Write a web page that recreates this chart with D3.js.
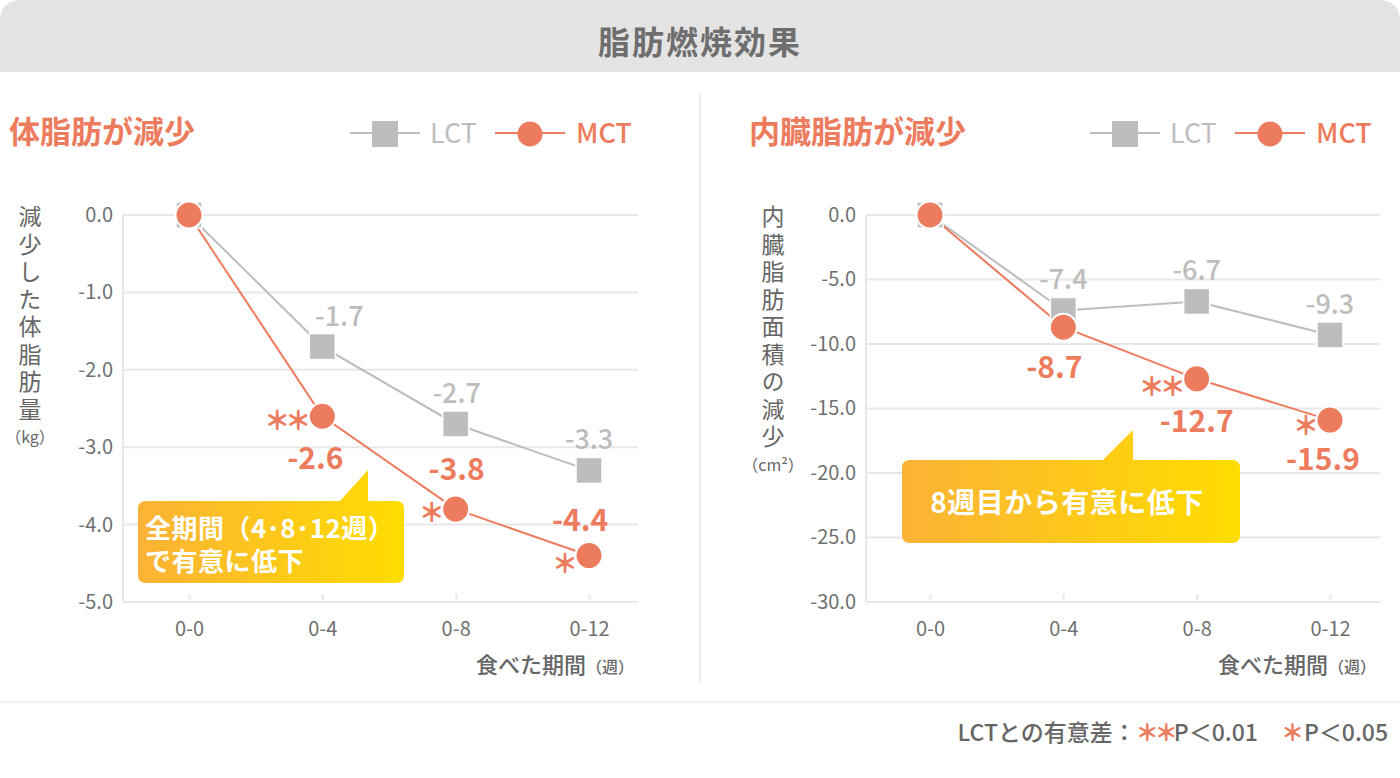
<!DOCTYPE html>
<html><head><meta charset="utf-8">
<script src="https://cdn.jsdelivr.net/npm/d3@7"></script>
<style>
html,body{margin:0;padding:0;background:#fff;}
svg{display:block;font-family:"Noto Sans CJK JP","Noto Sans",sans-serif;}
</style></head>
<body>
<svg id="c" width="1400" height="778"></svg>
<script>
// ---------- data ----------
const categories = ["0-0", "0-4", "0-8", "0-12"];
const fatLCT = [0, -1.7, -2.7, -3.3];
const fatMCT = [0, -2.6, -3.8, -4.4];
const fatSig = ["", "＊＊", "＊", "＊"];
const fatTicks = [0, -1, -2, -3, -4, -5];
const visLCT = [0, -7.4, -6.7, -9.3];
const visMCT = [0, -8.7, -12.7, -15.9];
const visSig = ["", "", "＊＊", "＊"];
const visTicks = [0, -5, -10, -15, -20, -25, -30];

const SALMON = "#ed7c5e", GREY = "#bdbdbd", TXT = "#707070", GRID = "#e8e8e8";
const svg = d3.select("#c");

// gradient
const defs = svg.append("defs");
const lg = defs.append("linearGradient").attr("id","callg").attr("x1","0%").attr("x2","100%");
lg.append("stop").attr("offset","0%").attr("stop-color","#fbb236");
lg.append("stop").attr("offset","100%").attr("stop-color","#ffdd00");

// header
svg.append("path")
  .attr("d","M0,72 L0,22 Q0,0 22,0 L1378,0 Q1400,0 1400,22 L1400,72 Z")
  .attr("fill","#e4e4e4");
svg.append("text").attr("x",700).attr("y",54).attr("text-anchor","middle")
  .attr("font-size",32).attr("font-weight",700).attr("fill","#6e6e6e").attr("letter-spacing",2)
  .text("脂肪燃焼効果");

// separators
svg.append("line").attr("x1",700).attr("x2",700).attr("y1",93).attr("y2",683)
  .attr("stroke","#ebebeb").attr("stroke-width",2);
svg.append("line").attr("x1",0).attr("x2",1400).attr("y1",702).attr("y2",702)
  .attr("stroke","#efefef").attr("stroke-width",2);

function drawChart(cfg){
  const g = svg.append("g");
  const x = d3.scalePoint().domain(categories).range([cfg.px0, cfg.px1]);
  const y = d3.scaleLinear().domain(cfg.domain).range([cfg.yb, cfg.yt]);

  // title
  g.append("text").attr("x",cfg.titleX).attr("y",143).attr("font-size",31).attr("font-weight",700)
    .attr("fill",SALMON).text(cfg.title);

  // legend
  const lgx = cfg.legX;
  g.append("line").attr("x1",lgx).attr("x2",lgx+70).attr("y1",133).attr("y2",133).attr("stroke",GREY).attr("stroke-width",2);
  g.append("rect").attr("x",lgx+22).attr("y",121).attr("width",26).attr("height",26).attr("fill",GREY);
  g.append("text").attr("x",lgx+80).attr("y",143).attr("font-size",27).attr("fill",GREY).text("LCT");
  g.append("line").attr("x1",lgx+145).attr("x2",lgx+215).attr("y1",133).attr("y2",133).attr("stroke",SALMON).attr("stroke-width",2);
  g.append("circle").attr("cx",lgx+180).attr("cy",134).attr("r",12.5).attr("fill",SALMON);
  g.append("text").attr("x",lgx+226).attr("y",143).attr("font-size",27).attr("font-weight",500).attr("fill",SALMON).text("MCT");

  // grid
  g.append("g").selectAll("line").data(cfg.ticks).join("line")
    .attr("x1",cfg.gx0).attr("x2",cfg.gx1).attr("y1",d=>y(d)).attr("y2",d=>y(d))
    .attr("stroke",GRID).attr("stroke-width",2);
  g.append("line").attr("x1",cfg.gx0).attr("x2",cfg.gx0).attr("y1",y(cfg.domain[1])).attr("y2",y(cfg.domain[0]))
    .attr("stroke",GRID).attr("stroke-width",2);

  // y axis (labels)
  const ya = d3.axisLeft(y).tickValues(cfg.ticks).tickSize(0).tickPadding(10);
  const yg = g.append("g").attr("transform",`translate(${cfg.gx0},0)`).call(ya);
  yg.select(".domain").remove();
  yg.selectAll("text").attr("font-size",20).attr("fill",TXT).attr("font-family","Noto Sans CJK JP").text(d=>d.toFixed(1));

  // x axis
  const xa = d3.axisBottom(x).tickSize(-8).tickPadding(20);
  const xg = g.append("g").attr("transform",`translate(0,${y(cfg.domain[0])})`).call(xa);
  xg.select(".domain").remove();
  xg.selectAll("line").attr("stroke",GRID).attr("stroke-width",2);
  xg.selectAll("text").attr("font-size",20).attr("fill",TXT).attr("font-family","Noto Sans CJK JP");

  // x title
  const xt = g.append("text").attr("x",cfg.gx1-4).attr("y",673).attr("text-anchor","end").attr("fill","#666").attr("font-weight",500);
  xt.append("tspan").attr("font-size",22).text("食べた期間");
  xt.append("tspan").attr("font-size",16).text("（週）");

  // y title vertical
  const chars = Array.from(cfg.yTitle);
  g.append("text").attr("x",cfg.yTitleX).attr("y",205)
    .attr("writing-mode","vertical-rl").attr("glyph-orientation-vertical",0)
    .attr("font-size",23).attr("letter-spacing",4.5).attr("fill","#666").text(cfg.yTitle);
  g.append("text").attr("x",cfg.yTitleX).attr("y",209+chars.length*27.5+14).attr("text-anchor","middle")
    .attr("font-size",16).attr("fill","#666").text(cfg.yUnit);

  // lines
  const line = d3.line().x((d,i)=>x(categories[i])).y(d=>y(d));
  g.append("path").datum(cfg.lct).attr("d",line).attr("fill","none").attr("stroke",GREY).attr("stroke-width",2);
  g.append("path").datum(cfg.mct).attr("d",line).attr("fill","none").attr("stroke",SALMON).attr("stroke-width",2);

  // markers
  g.append("g").selectAll("rect").data(cfg.lct).join("rect")
    .attr("x",(d,i)=>x(categories[i])-13).attr("y",d=>y(d)-13).attr("width",26).attr("height",26)
    .attr("fill",GREY).attr("stroke","#fff").attr("stroke-width",1.5);
  g.append("g").selectAll("circle").data(cfg.mct).join("circle")
    .attr("cx",(d,i)=>x(categories[i])).attr("cy",d=>y(d)).attr("r",13.5)
    .attr("fill",SALMON).attr("stroke","#fff").attr("stroke-width",2);

  // LCT value labels
  g.append("g").selectAll("text").data(cfg.lct.slice(1)).join("text")
    .attr("x",(d,i)=>x(categories[i+1])+cfg.lctDx[i]).attr("y",d=>y(d)-21)
    .attr("text-anchor","middle").attr("font-size",27).attr("font-weight",500).attr("fill",GREY)
    .text(d=>d.toFixed(1));
  // MCT value labels
  g.append("g").selectAll("text").data(cfg.mct.slice(1)).join("text")
    .attr("x",(d,i)=>x(categories[i+1])+cfg.mctDx[i]).attr("y",(d,i)=>y(d)+cfg.mctDy[i])
    .attr("text-anchor","middle").attr("font-size",30).attr("font-weight",700).attr("fill",SALMON)
    .text(d=>d.toFixed(1));
  // significance
  g.append("g").selectAll("text").data(cfg.sig).join("text")
    .attr("x",(d,i)=>x(categories[i])-16).attr("y",(d,i)=>y(cfg.mct[i])+cfg.sigDy[i])
    .attr("text-anchor","end").attr("font-size",26).attr("font-weight",900).attr("letter-spacing",-5)
    .attr("fill",SALMON).text(d=>d);

  // callout
  const c = cfg.callout;
  g.append("path")
    .attr("d",`M${c.x+8},${c.y} L${c.tx0},${c.y} L${c.tx1},${c.ty} L${c.tx1},${c.y} L${c.x+c.w-8},${c.y} Q${c.x+c.w},${c.y} ${c.x+c.w},${c.y+8} L${c.x+c.w},${c.y+c.h-8} Q${c.x+c.w},${c.y+c.h} ${c.x+c.w-8},${c.y+c.h} L${c.x+8},${c.y+c.h} Q${c.x},${c.y+c.h} ${c.x},${c.y+c.h-8} L${c.x},${c.y+8} Q${c.x},${c.y} ${c.x+8},${c.y} Z`)
    .attr("fill","url(#callg)");
  const ct = g.append("text").attr("x",c.textX).attr("y",c.textY).attr("text-anchor",c.anchor)
      .attr("font-size",c.fs).attr("font-weight",700).attr("letter-spacing",c.ls).attr("fill","#fff");
  c.lines.forEach((t,i)=>{
    ct.append("tspan").attr("x",c.textX).attr("dy",i===0?0:33).text(t);
  });
}

drawChart({
  title:"体脂肪が減少", titleX:9, legX:350,
  px0:189, px1:589, gx0:123, gx1:638, yt:215, yb:602, domain:[-5,0], ticks:fatTicks,
  lct:fatLCT, mct:fatMCT, sig:fatSig,
  lctDx:[17,1,0], mctDx:[-7,1,-9], mctDy:[53,-29,-25], sigDy:[0,14,13,17],
  yTitle:"減少した体脂肪量", yTitleX:30, yUnit:"（kg）",
  callout:{x:138,y:501,w:266,h:82,tx0:340,tx1:368,ty:470,lines:["全期間（4･8･12週）","で有意に低下"],textX:145,textY:538,anchor:"start",fs:26,ls:0.5}
});
drawChart({
  title:"内臓脂肪が減少", titleX:749, legX:1090,
  px0:930, px1:1330, gx0:866, gx1:1380, yt:215, yb:602, domain:[-30,0], ticks:visTicks,
  lct:visLCT, mct:visMCT, sig:visSig,
  lctDx:[0,0,0], mctDx:[-9,0,-7], mctDy:[51,53,50], sigDy:[0,0,17,15],
  yTitle:"内臓脂肪面積の減少", yTitleX:773, yUnit:"（cm²）",
  callout:{x:902,y:460,w:338,h:83,tx0:1103,tx1:1133,ty:430,lines:["8週目から有意に低下"],textX:1067,textY:513,anchor:"middle",fs:28,ls:0.5}
});

// footer
const ft = svg.append("text").attr("x",1388).attr("y",741).attr("text-anchor","end")
  .attr("font-size",23).attr("font-weight",500).attr("fill","#666");
ft.append("tspan").text("LCTとの有意差：");
ft.append("tspan").attr("fill",SALMON).attr("font-weight",900).attr("letter-spacing",-4).text("＊＊");
ft.append("tspan").text("P＜0.01　");
ft.append("tspan").attr("fill",SALMON).attr("font-weight",900).text("＊");
ft.append("tspan").text("P＜0.05");
</script>
</body></html>
